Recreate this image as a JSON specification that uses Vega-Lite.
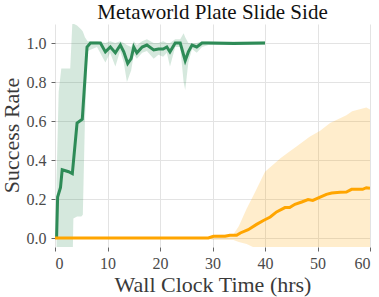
{
  "$schema": "https://vega.github.io/schema/vega-lite/v6.json",
  "width": 315,
  "height": 223,
  "autosize": "none",
  "padding": {"left": 55, "top": 24, "right": 9, "bottom": 50},
  "background": "white",
  "config": {
    "view": {"stroke": null},
    "font": "Liberation Serif",
    "axis": {
      "domain": false,
      "gridColor": "#e3e3e3",
      "gridWidth": 1,
      "tickColor": "#666666",
      "tickSize": 4,
      "labelFont": "Liberation Serif",
      "labelFontSize": 16,
      "labelColor": "#4a4a4a",
      "titleFont": "Liberation Serif",
      "titleFontSize": 22,
      "titleFontWeight": "normal",
      "titleColor": "#3a3a3a"
    }
  },
  "title": {
    "text": "Metaworld Plate Slide Side",
    "font": "Liberation Serif",
    "fontSize": 21,
    "fontWeight": "normal",
    "color": "#111111",
    "offset": 1
  },
  "datasets": {
    "bands": [
      {"s": "a", "x": 0.3, "lo": -0.2, "hi": 0.3},
      {"s": "a", "x": 0.7, "lo": -0.2, "hi": 0.75},
      {"s": "a", "x": 1.2, "lo": -0.2, "hi": 0.87},
      {"s": "a", "x": 2.9, "lo": -0.2, "hi": 0.87},
      {"s": "a", "x": 3.3, "lo": -0.2, "hi": 1.1},
      {"s": "a", "x": 3.5, "lo": 0.1, "hi": 1.1},
      {"s": "a", "x": 4.2, "lo": 0.11, "hi": 1.09},
      {"s": "a", "x": 5.0, "lo": 0.11, "hi": 1.07},
      {"s": "a", "x": 5.3, "lo": 0.12, "hi": 1.06},
      {"s": "a", "x": 5.7, "lo": 0.6, "hi": 1.03},
      {"s": "a", "x": 6.2, "lo": 0.96, "hi": 1.01},
      {"s": "a", "x": 8.0, "lo": 0.98, "hi": 1.01},
      {"s": "a", "x": 9.6, "lo": 0.9, "hi": 1.0},
      {"s": "a", "x": 10.5, "lo": 0.95, "hi": 1.01},
      {"s": "a", "x": 11.5, "lo": 0.88, "hi": 1.0},
      {"s": "a", "x": 12.4, "lo": 0.96, "hi": 1.01},
      {"s": "a", "x": 13.1, "lo": 0.9, "hi": 1.0},
      {"s": "a", "x": 13.7, "lo": 0.8, "hi": 0.99},
      {"s": "a", "x": 14.5, "lo": 0.86, "hi": 0.98},
      {"s": "a", "x": 15.0, "lo": 0.94, "hi": 1.01},
      {"s": "a", "x": 15.6, "lo": 0.92, "hi": 0.99},
      {"s": "a", "x": 16.6, "lo": 0.95, "hi": 1.01},
      {"s": "a", "x": 17.5, "lo": 0.96, "hi": 1.02},
      {"s": "a", "x": 18.8, "lo": 0.92, "hi": 1.0},
      {"s": "a", "x": 19.7, "lo": 0.94, "hi": 1.0},
      {"s": "a", "x": 20.6, "lo": 0.93, "hi": 1.01},
      {"s": "a", "x": 21.3, "lo": 0.95, "hi": 1.0},
      {"s": "a", "x": 21.9, "lo": 0.88, "hi": 1.0},
      {"s": "a", "x": 22.9, "lo": 0.98, "hi": 1.02},
      {"s": "a", "x": 23.85, "lo": 0.98, "hi": 1.02},
      {"s": "a", "x": 24.5, "lo": 0.8, "hi": 1.05},
      {"s": "a", "x": 24.8, "lo": 0.76, "hi": 1.03},
      {"s": "a", "x": 25.4, "lo": 0.9, "hi": 1.0},
      {"s": "a", "x": 26.1, "lo": 0.97, "hi": 1.0},
      {"s": "a", "x": 27.0, "lo": 0.95, "hi": 1.0},
      {"s": "a", "x": 28.0, "lo": 0.98, "hi": 1.01},
      {"s": "a", "x": 29.2, "lo": 0.99, "hi": 1.01},
      {"s": "a", "x": 40.0, "lo": 0.99, "hi": 1.01},
      {"s": "b", "x": 0, "lo": 0, "hi": 0},
      {"s": "b", "x": 29, "lo": 0, "hi": 0},
      {"s": "b", "x": 30, "lo": -0.01, "hi": 0.015},
      {"s": "b", "x": 34, "lo": -0.01, "hi": 0.02},
      {"s": "b", "x": 35, "lo": -0.02, "hi": 0.06},
      {"s": "b", "x": 36.5, "lo": -0.03, "hi": 0.15},
      {"s": "b", "x": 38, "lo": -0.05, "hi": 0.23},
      {"s": "b", "x": 40, "lo": -0.1, "hi": 0.34},
      {"s": "b", "x": 43, "lo": -0.15, "hi": 0.41},
      {"s": "b", "x": 45, "lo": -0.15, "hi": 0.45},
      {"s": "b", "x": 46, "lo": -0.15, "hi": 0.47},
      {"s": "b", "x": 48.5, "lo": -0.2, "hi": 0.52},
      {"s": "b", "x": 50.5, "lo": -0.2, "hi": 0.55},
      {"s": "b", "x": 52.4, "lo": -0.2, "hi": 0.59},
      {"s": "b", "x": 55.5, "lo": -0.2, "hi": 0.63},
      {"s": "b", "x": 56.6, "lo": -0.2, "hi": 0.65},
      {"s": "b", "x": 59.3, "lo": -0.2, "hi": 0.67},
      {"s": "b", "x": 60, "lo": -0.2, "hi": 0.66}
    ],
    "lines": [
      {"s": "a", "x": 0.3, "y": 0.0},
      {"s": "a", "x": 0.5, "y": 0.21},
      {"s": "a", "x": 1.05, "y": 0.26},
      {"s": "a", "x": 1.37, "y": 0.35},
      {"s": "a", "x": 2.6, "y": 0.34},
      {"s": "a", "x": 3.3, "y": 0.33},
      {"s": "a", "x": 4.2, "y": 0.59},
      {"s": "a", "x": 5.2, "y": 0.61},
      {"s": "a", "x": 6.1, "y": 0.98},
      {"s": "a", "x": 6.75, "y": 1.0},
      {"s": "a", "x": 8.65, "y": 1.0},
      {"s": "a", "x": 9.6, "y": 0.955},
      {"s": "a", "x": 10.55, "y": 0.98},
      {"s": "a", "x": 11.5, "y": 0.95},
      {"s": "a", "x": 12.45, "y": 0.99},
      {"s": "a", "x": 13.1, "y": 0.955},
      {"s": "a", "x": 13.85, "y": 0.895},
      {"s": "a", "x": 14.5, "y": 0.92},
      {"s": "a", "x": 15.0, "y": 0.98},
      {"s": "a", "x": 15.6, "y": 0.95},
      {"s": "a", "x": 16.6, "y": 0.98},
      {"s": "a", "x": 17.5, "y": 0.99},
      {"s": "a", "x": 18.8, "y": 0.965},
      {"s": "a", "x": 19.7, "y": 0.97},
      {"s": "a", "x": 20.6, "y": 0.97},
      {"s": "a", "x": 21.3, "y": 0.98},
      {"s": "a", "x": 21.9, "y": 0.955},
      {"s": "a", "x": 22.9, "y": 1.0},
      {"s": "a", "x": 23.85, "y": 1.0},
      {"s": "a", "x": 24.8, "y": 0.91},
      {"s": "a", "x": 25.4, "y": 0.955},
      {"s": "a", "x": 26.1, "y": 0.99},
      {"s": "a", "x": 27.0, "y": 0.98},
      {"s": "a", "x": 28.0, "y": 1.0},
      {"s": "a", "x": 29.2, "y": 1.0},
      {"s": "a", "x": 34.0, "y": 0.998},
      {"s": "a", "x": 40.0, "y": 1.0},
      {"s": "b", "x": 0, "y": 0.0},
      {"s": "b", "x": 29.2, "y": 0.0},
      {"s": "b", "x": 30.2, "y": 0.009},
      {"s": "b", "x": 32.4, "y": 0.009},
      {"s": "b", "x": 33.3, "y": 0.014},
      {"s": "b", "x": 34.6, "y": 0.014},
      {"s": "b", "x": 35.3, "y": 0.026},
      {"s": "b", "x": 36.8, "y": 0.043},
      {"s": "b", "x": 38.4, "y": 0.07},
      {"s": "b", "x": 39.7, "y": 0.09},
      {"s": "b", "x": 41.0, "y": 0.108},
      {"s": "b", "x": 42.2, "y": 0.134},
      {"s": "b", "x": 43.8, "y": 0.156},
      {"s": "b", "x": 44.7, "y": 0.156},
      {"s": "b", "x": 45.7, "y": 0.173},
      {"s": "b", "x": 47.0, "y": 0.185},
      {"s": "b", "x": 48.2, "y": 0.197},
      {"s": "b", "x": 49.1, "y": 0.193},
      {"s": "b", "x": 50.5, "y": 0.21},
      {"s": "b", "x": 51.7, "y": 0.224},
      {"s": "b", "x": 52.7, "y": 0.231},
      {"s": "b", "x": 54.3, "y": 0.235},
      {"s": "b", "x": 55.5, "y": 0.236},
      {"s": "b", "x": 56.5, "y": 0.25},
      {"s": "b", "x": 58.6, "y": 0.25},
      {"s": "b", "x": 59.3, "y": 0.258},
      {"s": "b", "x": 60.0, "y": 0.255}
    ]
  },
  "layer": [
    {
      "data": {"name": "bands"},
      "mark": {"type": "area", "opacity": 0.2, "clip": true},
      "encoding": {
        "x": {"field": "x", "type": "quantitative"},
        "y": {"field": "lo", "type": "quantitative"},
        "y2": {"field": "hi"},
        "color": {"field": "s", "type": "nominal", "scale": {"domain": ["a", "b"], "range": ["#2e8b57", "#ffa500"]}, "legend": null},
        "detail": {"field": "s"}
      }
    },
    {
      "data": {"name": "lines"},
      "mark": {"type": "line", "strokeWidth": 3, "clip": true},
      "encoding": {
        "x": {
          "field": "x", "type": "quantitative",
          "scale": {"domain": [0, 60], "nice": false, "zero": false},
          "axis": {"values": [0, 10, 20, 30, 40, 50, 60], "format": "d", "title": "Wall Clock Time (hrs)", "labelFont": "Liberation Serif", "labelFontSize": 16, "labelPadding": 4, "titleFont": "Liberation Serif", "titleY": 37, "titleBaseline": "middle"}
        },
        "y": {
          "field": "y", "type": "quantitative",
          "scale": {"domain": [-0.046, 1.098], "nice": false, "zero": false},
          "axis": {"values": [0, 0.2, 0.4, 0.6, 0.8, 1.0], "format": ".1f", "title": "Success Rate", "labelFont": "Liberation Serif", "labelFontSize": 16, "labelPadding": 5, "titleFont": "Liberation Serif", "titleX": -44, "titleY": 111, "titleBaseline": "middle", "titleAngle": -90}
        },
        "color": {"field": "s", "type": "nominal", "legend": null},
        "order": {"field": "x"}
      }
    }
  ]
}
